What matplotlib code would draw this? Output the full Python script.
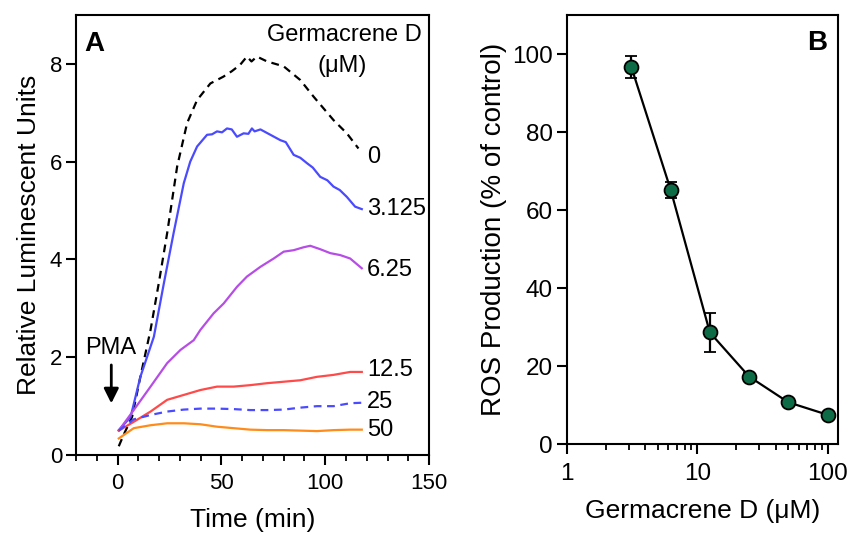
import matplotlib.pyplot as plt
import numpy as np

plt.rcParams['font.family'] = ['Liberation Sans', 'DejaVu Sans']

# Panel A: luminescence traces (time in min, relative units)
t_0 = [0.6, 3, 7, 11, 15.9, 20, 23.9, 28.7, 33.5, 38.3, 44.7, 51, 55, 59, 62.3,
       64.5, 67.1, 72, 80, 88, 94.4, 100, 104, 110.4, 116]
v_0 = [0.18, 0.42, 0.78, 1.6, 2.56, 3.55, 4.54, 5.9, 6.79, 7.26, 7.6, 7.74, 7.85,
       7.98, 8.15, 8.05, 8.15, 8.05, 7.95, 7.67, 7.33, 7.05, 6.85, 6.58, 6.27]

t_3125 = [0.6, 6.3, 11, 17.5, 22.3, 27, 31.9, 35, 38.3, 43.1, 45.5, 47.9, 50.3,
          52.7, 55, 57.5, 60.7, 63, 64.7, 66, 68.8, 73.6, 78.4, 81, 84.8, 88,
          91.2, 94, 97.6, 101, 104, 107, 110.4, 114.4, 117.6]
v_3125 = [0.51, 0.78, 1.6, 2.42, 3.51, 4.54, 5.56, 6.0, 6.31, 6.55, 6.56, 6.62,
          6.6, 6.68, 6.66, 6.51, 6.58, 6.57, 6.68, 6.62, 6.66, 6.55, 6.44, 6.4,
          6.14, 6.08, 5.97, 5.88, 5.69, 5.62, 5.49, 5.42, 5.28, 5.08, 5.03]

t_625 = [0.6, 7.8, 15.9, 23.9, 30.3, 36.7, 39.9, 46.3, 51.1, 57.5, 62.3, 68.8,
         75.2, 80, 84.8, 89.6, 92.8, 97.6, 102.4, 107.2, 112, 117.6]
v_625 = [0.5, 0.92, 1.4, 1.88, 2.15, 2.35, 2.56, 2.9, 3.1, 3.44, 3.65, 3.85,
         4.02, 4.16, 4.19, 4.25, 4.28, 4.21, 4.13, 4.09, 4.02, 3.82]

t_low = [0.6, 7.8, 15.9, 23.9, 31.9, 39.9, 47.9, 55.9, 63.9, 72, 80, 88, 96,
         104, 112, 117.6]
v_125 = [0.5, 0.68, 0.89, 1.13, 1.23, 1.33, 1.4, 1.4, 1.43, 1.47, 1.5, 1.53,
         1.6, 1.64, 1.7, 1.7]
v_25 = [0.5, 0.73, 0.82, 0.89, 0.93, 0.95, 0.95, 0.94, 0.92, 0.92, 0.93, 0.97,
        1.0, 1.0, 1.06, 1.07]
v_50 = [0.34, 0.55, 0.61, 0.65, 0.65, 0.63, 0.58, 0.55, 0.52, 0.51, 0.51, 0.5,
        0.49, 0.51, 0.52, 0.52]

curve_labels = ['0', '3.125', '6.25', '12.5', '25', '50']
label_y = [6.1, 5.03, 3.79, 1.74, 1.08, 0.51]

# Panel B: dose response
conc = [3.125, 6.25, 12.5, 25, 50, 100]
ros = [96.6, 65.2, 28.6, 17.3, 10.7, 7.5]
ros_err = [2.8, 2.1, 5.0, 0.8, 0.8, 0.6]

fig = plt.figure(figsize=(8.48, 5.36), dpi=100)
axA = fig.add_axes([0.0896, 0.151, 0.4164, 0.821])
axB = fig.add_axes([0.6686, 0.1716, 0.3194, 0.8004])

blue = '#4a4aff'
axA.plot(t_0, v_0, color='black', lw=1.6, ls=(0, (3.5, 2.5)))
axA.plot(t_3125, v_3125, color=blue, lw=1.6)
axA.plot(t_625, v_625, color='#b64ee6', lw=1.6)
axA.plot(t_low, v_125, color='#ff4a4a', lw=1.6)
axA.plot(t_low, v_25, color=blue, lw=1.6, ls=(0, (3.5, 2.5)))
axA.plot(t_low, v_50, color='#ff8c1a', lw=1.6)

for lab, y in zip(curve_labels, label_y):
    axA.text(120, y, lab, fontsize=17, va='center', ha='left')

axA.text(0.98, 0.955, 'Germacrene D', transform=axA.transAxes, fontsize=17,
         ha='right', va='center')
axA.text(0.755, 0.885, '(\u03bcM)', transform=axA.transAxes, fontsize=17,
         ha='center', va='center')
axA.text(0.025, 0.935, 'A', transform=axA.transAxes, fontsize=20,
         fontweight='bold', ha='left', va='center')
axA.text(-3.4, 2.18, 'PMA', fontsize=17, ha='center', va='center')
axA.annotate('', xy=(-3, 1.0), xytext=(-3, 1.9),
             arrowprops=dict(arrowstyle='-|>', color='black', lw=2,
                             mutation_scale=22))

axA.set_xlim(-20, 150)
axA.set_ylim(0, 9)
axA.set_xticks([0, 50, 100, 150])
axA.set_xticks(np.arange(-20, 151, 10), minor=True)
axA.set_yticks([0, 2, 4, 6, 8])
axA.set_xlabel('Time (min)', fontsize=19, labelpad=10)
axA.set_ylabel('Relative Luminescent Units', fontsize=19, labelpad=6)

axB.errorbar(conc, ros, yerr=ros_err, color='black', lw=1.6, capsize=4.5,
             capthick=1.6, elinewidth=1.6, marker='o', ms=10,
             mfc='#0d6b45', mec='black', mew=1.3, zorder=3)
axB.set_xscale('log')
axB.set_xlim(1, 120)
axB.set_ylim(0, 110)
axB.set_xticks([1, 10, 100])
axB.set_xticklabels(['1', '10', '100'])
axB.set_yticks([0, 20, 40, 60, 80, 100])
axB.text(0.96, 0.935, 'B', transform=axB.transAxes, fontsize=20,
         fontweight='bold', ha='right', va='center')
axB.set_xlabel('Germacrene D (\u03bcM)', fontsize=19, labelpad=10)
axB.set_ylabel('ROS Production (% of control)', fontsize=20, labelpad=4)

for ax, fs in ((axA, 16), (axB, 17.5)):
    for s in ax.spines.values():
        s.set_linewidth(1.5)
    ax.tick_params(which='major', direction='out', length=7, width=1.5,
                   labelsize=fs, pad=3)
    ax.tick_params(which='minor', direction='out', length=4, width=1.3)
axB.tick_params(axis='x', which='major', pad=7)
axA.tick_params(axis='x', which='major', pad=6)

fig.savefig('out.png', dpi=100)
